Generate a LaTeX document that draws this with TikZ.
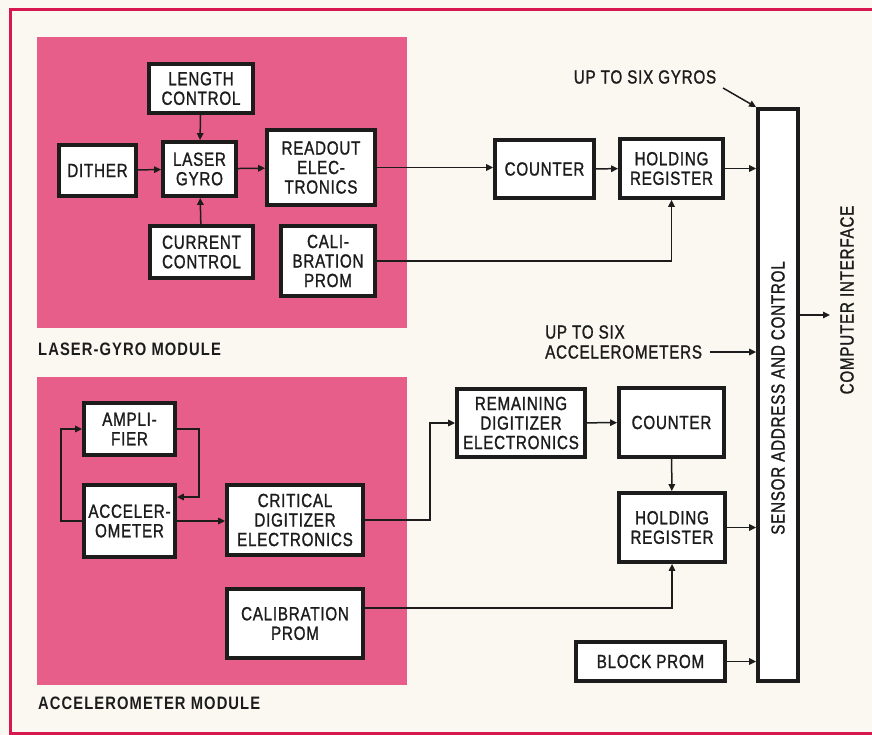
\documentclass[tikz,border=0pt]{standalone}
\usepackage{fontspec}
\setmainfont{Liberation Sans}[FakeStretch=0.8, LetterSpace=4, FakeBold=1.2]
\newfontfamily\modfont{Liberation Sans Bold}[FakeStretch=0.82, LetterSpace=6]
\usetikzlibrary{arrows.meta,calc}
\definecolor{modpink}{RGB}{232,94,138}
\definecolor{framered}{RGB}{214,24,78}
\definecolor{paper}{RGB}{250,248,241}
\definecolor{ink}{RGB}{28,28,28}
\begin{document}
\begin{tikzpicture}[x=1pt,y=-1pt,
  blk/.style={draw=ink, line width=3.8pt, fill=white, align=center, inner sep=0pt, text=ink, font=\fontsize{19}{19.5}\selectfont},
  arr/.style={draw=ink, line width=1.5pt, -{Triangle[length=7pt,width=6.5pt]}},
  lbl/.style={text=ink, inner sep=0pt, font=\fontsize{19}{20}\selectfont},
  modlbl/.style={text=ink, inner sep=0pt, anchor=west, font=\modfont\fontsize{18}{20}\selectfont},
]
\useasboundingbox (0,0) rectangle (872,735);
\fill[paper] (0,0) rectangle (872,735);
\draw[framered, line width=3pt] (10,10) rectangle (890,733);
% module backgrounds
\fill[modpink] (37,37) rectangle (407,328);
\fill[modpink] (37,377) rectangle (407,685);
\node[modlbl] (lgm) at (38,349) {LASER-GYRO MODULE};
\node[modlbl] (acm) at (38,703) {ACCELEROMETER MODULE};

% laser gyro module
\node[blk, minimum width=104, minimum height=49] (length) at (201,88.5) {LENGTH\\CONTROL};
\node[blk, minimum width=77, minimum height=51] (dither) at (97.5,170.5) {DITHER};
\node[blk, minimum width=73, minimum height=54] (gyro) at (199.5,169) {LASER\\GYRO};
\node[blk, minimum width=108, minimum height=75] (readout) at (321,167.5) {READOUT\\ELEC-\\TRONICS};
\node[blk, minimum width=103, minimum height=52] (current) at (201.5,252) {CURRENT\\CONTROL};
\node[blk, minimum width=94, minimum height=70] (cal1) at (328,261) {CALI-\\BRATION\\PROM};

\node[blk, minimum width=99, minimum height=58] (counter1) at (544.5,169) {COUNTER};
\node[blk, minimum width=103, minimum height=59] (hr1) at (671.5,168.5) {HOLDING\\REGISTER};

\node[blk, minimum width=40, minimum height=572] (sac) at (778,395) {};
\node[lbl, rotate=90] (saclbl) at (778,398) {SENSOR ADDRESS AND CONTROL};
\node[lbl, rotate=90] (cif) at (847,300) {COMPUTER INTERFACE};

% accelerometer module
\node[blk, minimum width=91, minimum height=52] (amp) at (129.5,429) {AMPLI-\\FIER};
\node[blk, minimum width=91, minimum height=72] (accel) at (129.5,521) {ACCELER-\\OMETER};
\node[blk, minimum width=136, minimum height=70] (crit) at (295,520) {CRITICAL\\DIGITIZER\\ELECTRONICS};
\node[blk, minimum width=136, minimum height=69] (cal2) at (295,623.5) {CALIBRATION\\PROM};

\node[blk, minimum width=128, minimum height=68] (remain) at (521,423) {REMAINING\\DIGITIZER\\ELECTRONICS};
\node[blk, minimum width=105, minimum height=69] (counter2) at (671.5,422.5) {COUNTER};
\node[blk, minimum width=106, minimum height=69] (hr2) at (672,527.5) {HOLDING\\REGISTER};
\node[blk, minimum width=149, minimum height=39] (block) at (650.5,661.5) {BLOCK PROM};

% external labels
\node[lbl] (gyros) at (645,77) {UP TO SIX GYROS};
\node[lbl, anchor=west, align=left] (accs) at (545,342) {UP TO SIX\\ACCELEROMETERS};
\coordinate (gyA) at (723,88);
\coordinate (accA) at (710,352);
\coordinate (outA) at (830,315);
\coordinate (cb) at (430,0);

% connectors, gyro module
\draw[arr] (dither) -- (gyro);
\draw[arr] (length) -- (gyro);
\draw[arr] (current) -- (gyro);
\draw[arr] (gyro) -- (readout);
\draw[arr] (readout.east) -- (readout.east -| counter1.west);
\draw[arr] (counter1) -- (hr1);
\draw[arr] (hr1.east) -- (hr1.east -| sac.west);
\draw[arr] (cal1.east) -| (hr1.south);
\draw[arr] (gyA) -- (sac.north west);
\draw[arr] (accA) -- (accA -| sac.west);
\draw[arr] (outA -| sac.east) -- (outA);

% connectors, accelerometer module
\draw[arr] (accel.west) -- ++(-21,0) |- (amp.west);
\draw[arr] (amp.east) -- ++(22,0) |- (accel.east |- 0,497);
\draw[arr] (accel.east) -- (accel.east -| crit.west);
\draw[arr] (crit.east) -| (cb |- remain.west) -- (remain.west);
\draw[arr] (remain) -- (counter2);
\draw[arr] (counter2) -- (hr2);
\draw[arr] (hr2.east) -- (hr2.east -| sac.west);
\draw[arr] (cal2.east |- 0,608) -| (hr2.south);
\draw[arr] (block.east) -- (block.east -| sac.west);
\end{tikzpicture}
\end{document}
